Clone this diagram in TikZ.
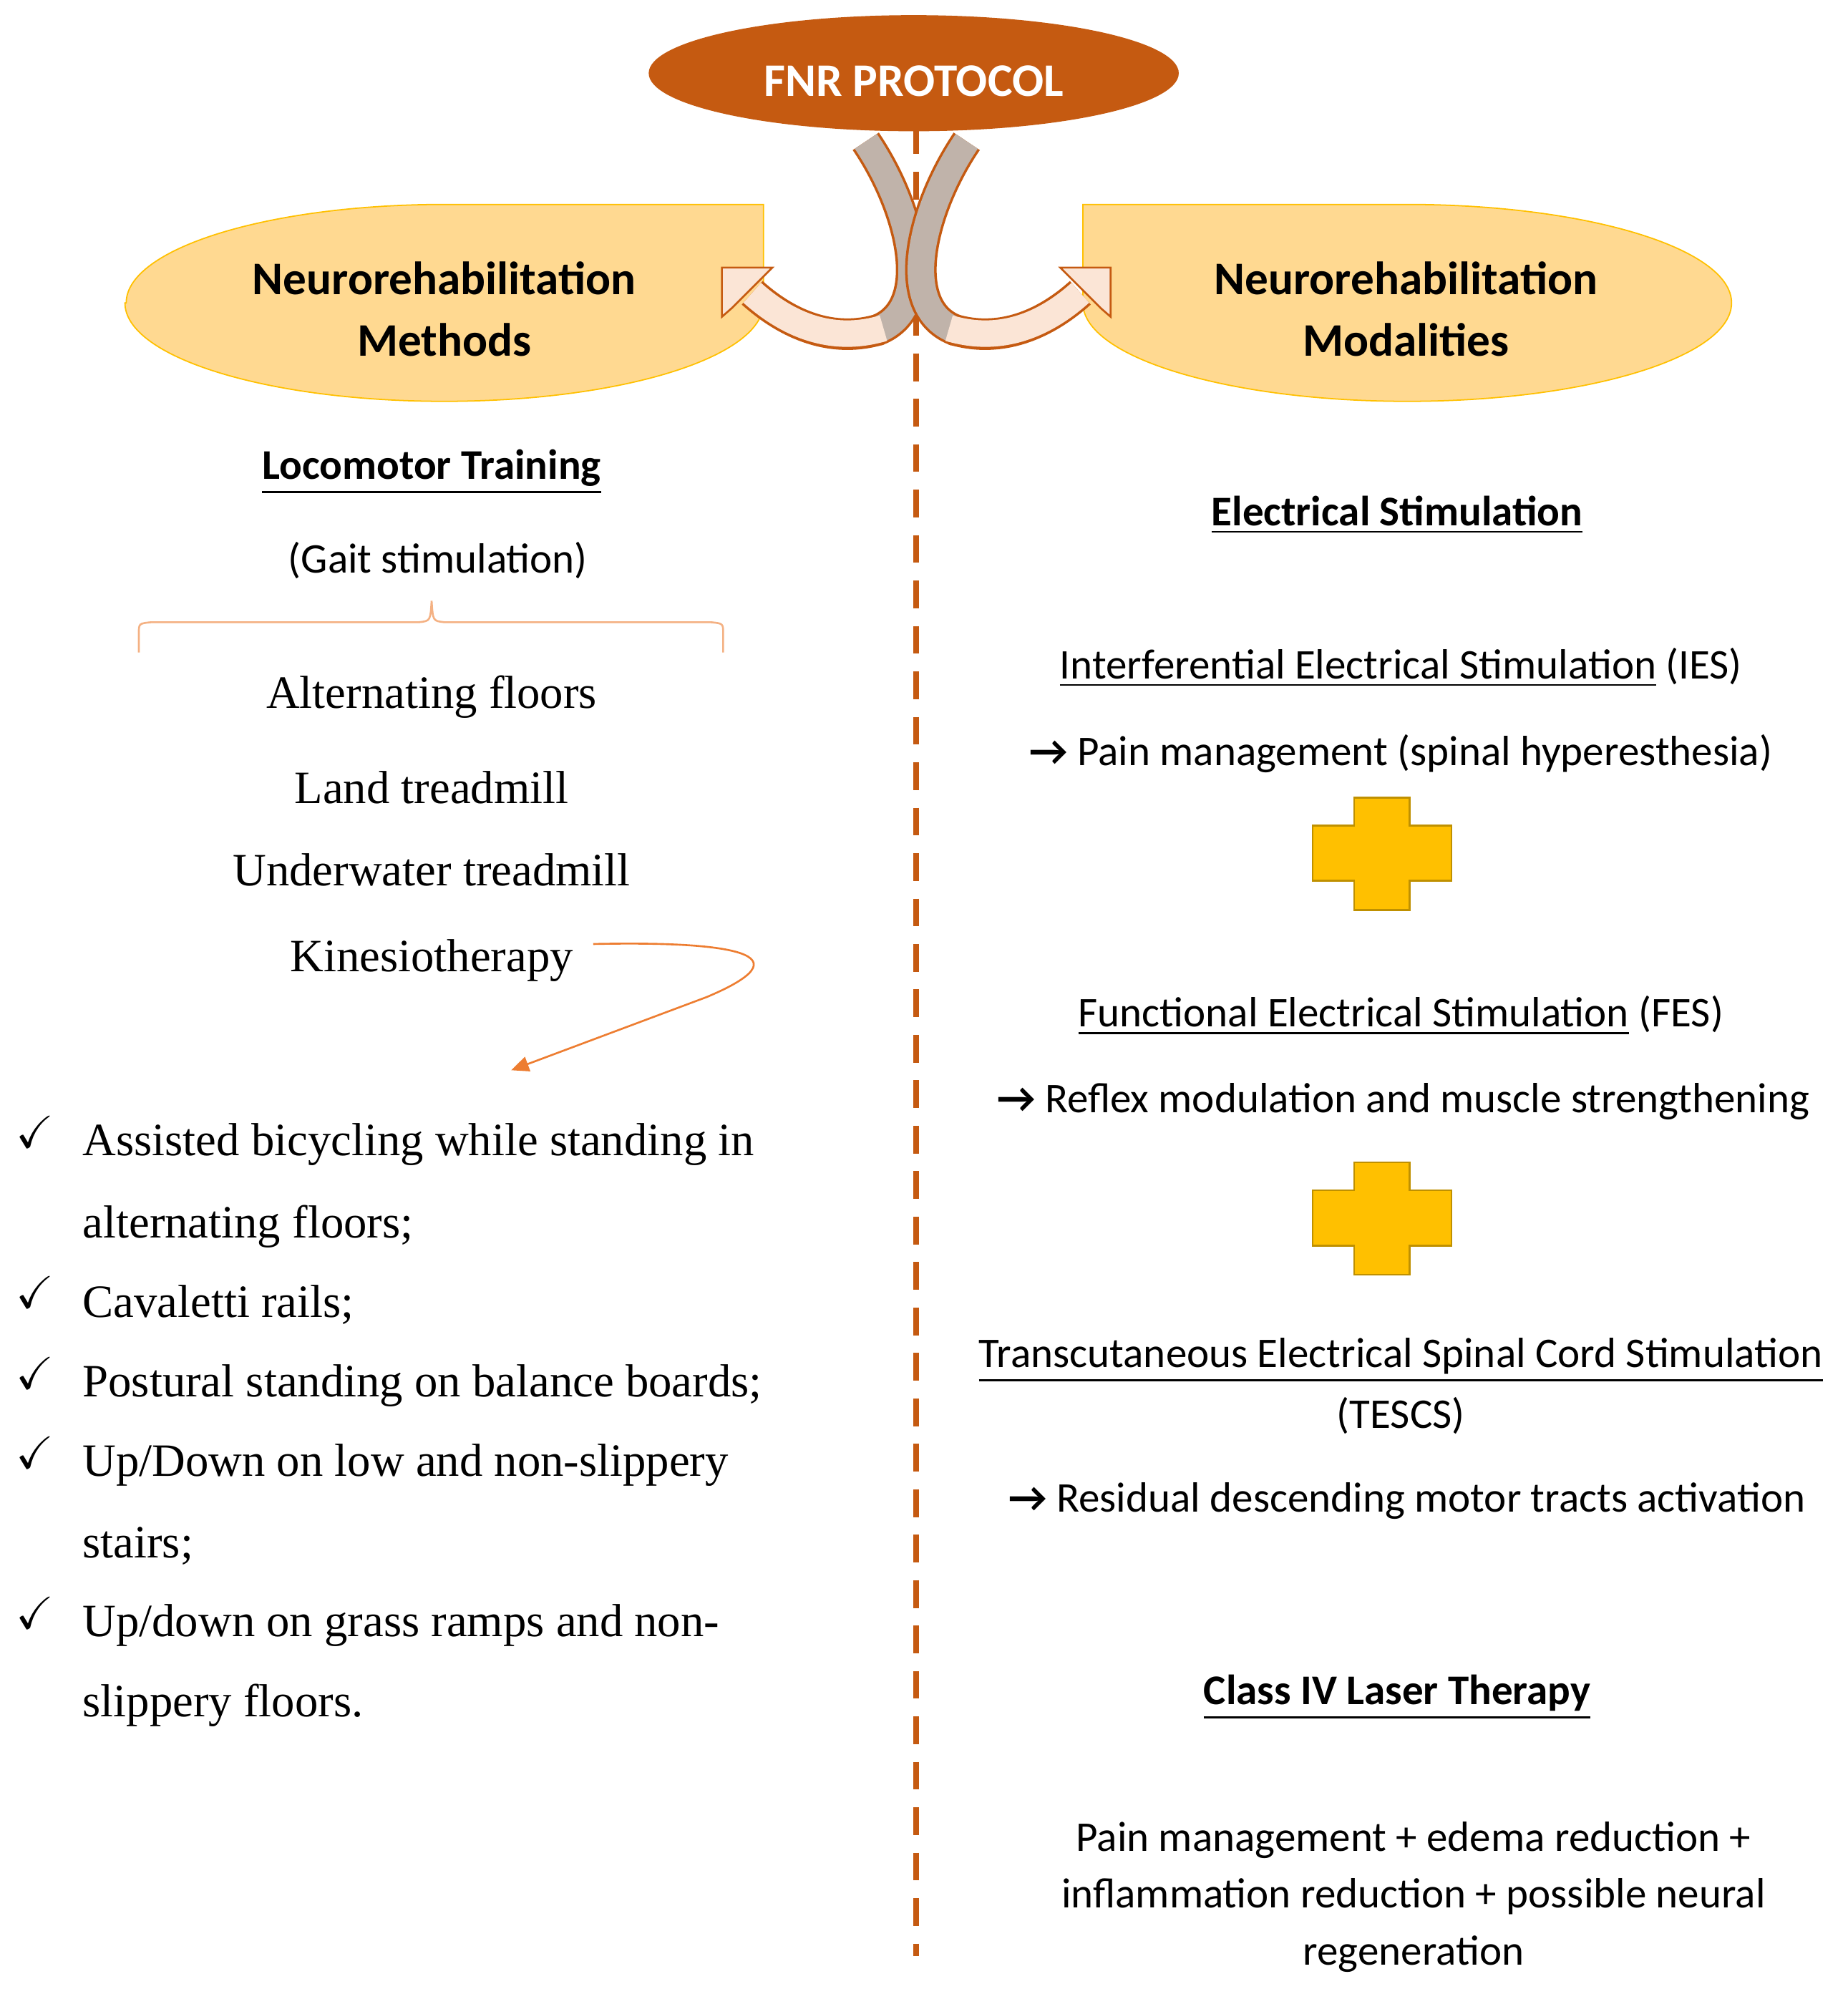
\documentclass[tikz,border=0pt]{standalone}
\usepackage{amsmath,amssymb}
\usepackage{fontspec}
\setmainfont{Liberation Serif}
\newfontfamily\carl{Carlito}
\usetikzlibrary{shapes.geometric,arrows.meta}
\definecolor{dorange}{HTML}{C55A11}
\definecolor{lyel}{HTML}{FFD991}
\definecolor{yedge}{HTML}{FFC000}
\definecolor{pinkf}{HTML}{FBE5D6}
\definecolor{grayf}{HTML}{C0B3AA}
\definecolor{braceC}{HTML}{F4B183}
\definecolor{arrC}{HTML}{ED7D31}
\definecolor{plusE}{HTML}{BF9000}
\newcommand{\rar}{{\bfseries →}}
\begin{document}
\begin{tikzpicture}[x=1pt,y=1pt,
 hdr/.style={font=\carl\fontsize{37}{49}\selectfont\bfseries,align=center,yshift=-3},
 rt/.style={font=\carl\fontsize{33.5}{45}\selectfont,align=center,yshift=-6},
 rtb/.style={font=\carl\fontsize{33.5}{40}\selectfont\bfseries,align=center,yshift=-6},
 tm/.style={font=\fontsize{36.7}{40}\selectfont,yshift=-6},
 li/.style={font=\fontsize{36.7}{40}\selectfont,anchor=west,yshift=-6},
 ck/.style={font=\fontsize{36}{36}\selectfont\bfseries},
 plus/.style={fill=yedge,draw=plusE,line width=1.5}]
\useasboundingbox (0,0) rectangle (1464,-1576);
% dashed center line
\draw[dorange,line width=4.5,dash pattern=on 22 off 14] (726,-100) -- (726,-1550);
% yellow shapes
\draw[yedge,fill=lyel,line width=1] (100,-240) arc[start angle=180,end angle=90,x radius=252,y radius=78] -- (605,-162) -- (605,-240) arc[start angle=0,end angle=-180,x radius=253,y radius=78] -- cycle;
\draw[yedge,fill=lyel,line width=1] (858,-162) -- (1115,-162) arc[start angle=90,end angle=0,x radius=257,y radius=78] arc[start angle=0,end angle=-180,x radius=257,y radius=78] -- cycle;
% FNR ellipse
\node[ellipse,fill=dorange,minimum width=420,minimum height=92,inner sep=0] (fnr) at (724,-58) {};
\node[font=\carl\fontsize{37}{37}\selectfont\bfseries,text=white] at (724,-64) {FNR PROTOCOL};
% curved arrows
\foreach \s in {1,-1}{
\begin{scope}[xshift=726,xscale=\s,xshift=-726]
 \draw[dorange,line width=25] (686,-112) .. controls (722,-165) and (742,-245) .. (694,-262);
 \draw[grayf,line width=21] (686,-112) .. controls (722,-165) and (742,-245) .. (694,-262);
 \draw[dorange,line width=25] (697,-261) .. controls (660,-272) and (625,-258) .. (596,-232);
 \draw[pinkf,line width=21] (700,-260) .. controls (660,-272) and (625,-258) .. (596,-232);
 \draw[dorange,line width=1.5,fill=pinkf,line join=miter] (572,-212) -- (612,-212) -- (606,-218) -- (593,-231) -- (580,-244) -- (572,-251) -- cycle;
\end{scope}}
\node[hdr] (meth) at (352,-242) {Neurorehabilitation\\Methods};
\node[hdr] (moda) at (1114,-242) {Neurorehabilitation\\Modalities};
% left column
\node[rtb] (loco) at (342,-368) {\underline{Locomotor Training}};
\node[rt] (gait) at (347,-438) {(Gait stimulation)};
\draw[braceC,line width=1.5] (110,-517) -- (110,-502) .. controls (110,-494) .. (120,-493) -- (332,-493) .. controls (341,-492) .. (342,-476) .. controls (343,-492) .. (352,-493) -- (563,-493) .. controls (573,-494) .. (573,-502) -- (573,-517);
\node[tm] (alt) at (342,-546) {Alternating floors};
\node[tm] (land) at (342,-618) {Land treadmill};
\node[tm] (under) at (342,-683) {Underwater treadmill};
\node[tm] (kine) at (342,-755) {Kinesiotherapy};
\coordinate (kend) at (405,-848);
\draw[arrC,line width=1.5,-{Triangle[length=14,width=12]}] (470,-748) .. controls (560,-746) and (650,-752) .. (560,-790) -- (kend);
\foreach \y/\t in {901/{Assisted bicycling while standing in},1028/{Cavaletti rails;},1092/{Postural standing on balance boards;},1155/{Up/Down on low and non-slippery},1282/{Up/down on grass ramps and non-}}{
 \node[ck] at (28,-\y+4) {\checkmark};
 \node[li] at (62,-\y) {\t};}
\node[li] at (62,-966) {alternating floors;};
\node[li] at (62,-1219) {stairs;};
\node[li] at (62,-1345) {slippery floors.};
% right column
\node[rtb] (es) at (1107,-402) {\underline{Electrical Stimulation}};
\node[rt] (ies) at (1110,-523) {\underline{Interferential Electrical Stimulation} (IES)};
\node[rt] (iesd) at (1110,-591) {\rar{} Pain management (spinal hyperesthesia)};
\foreach \c in {676,965}{
 \draw[plus] (1073,-\c+44) -- (1117,-\c+44) -- (1117,-\c+22) -- (1150,-\c+22) -- (1150,-\c-22) -- (1117,-\c-22) -- (1117,-\c-45) -- (1073,-\c-45) -- (1073,-\c-22) -- (1040,-\c-22) -- (1040,-\c+22) -- (1073,-\c+22) -- cycle;}
\node[rt] (fes) at (1110,-799) {\underline{Functional Electrical Stimulation} (FES)};
\node[rt] (fesd) at (1112,-867) {\rar{} Reflex modulation and muscle strengthening};
\node[rt] (tes) at (1110,-1072) {\underline{Transcutaneous Electrical Spinal Cord Stimulation}};
\node[rt] (tes2) at (1110,-1116) {(TESCS)};
\node[rt] (tesd) at (1115,-1183) {\rar{} Residual descending motor tracts activation};
\node[rtb] (las) at (1107,-1339) {\underline{Class IV Laser Therapy}};
\node[rt] (lasd) at (1120,-1497) {Pain management + edema reduction +\\inflammation reduction + possible neural\\regeneration};
\end{tikzpicture}
\end{document}
